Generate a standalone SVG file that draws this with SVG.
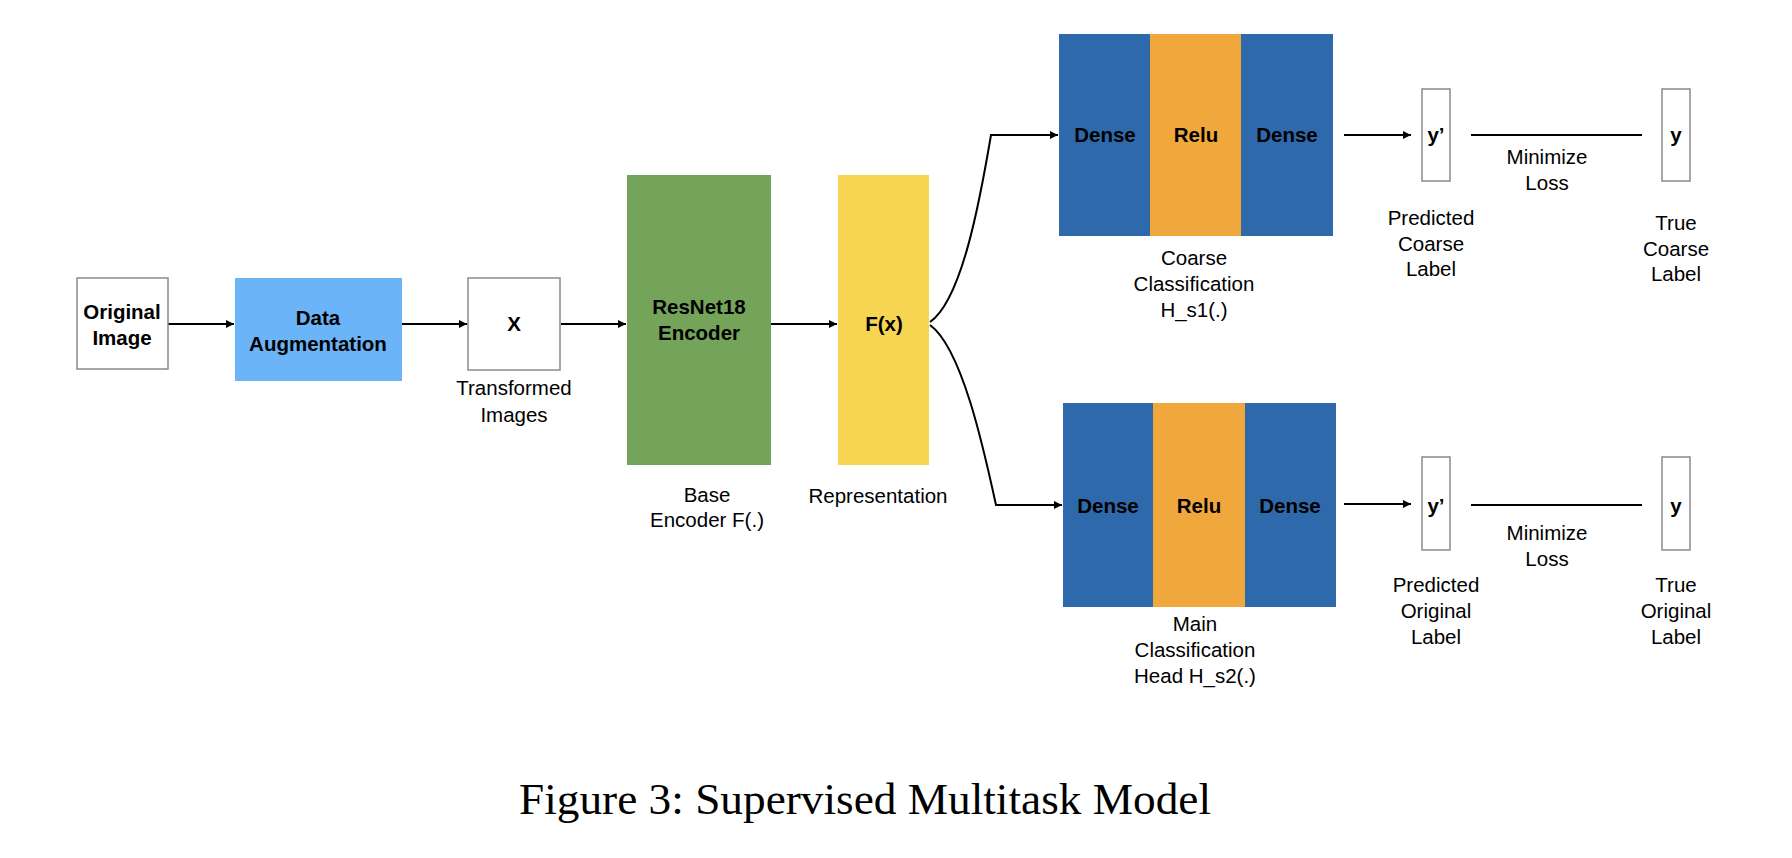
<svg xmlns="http://www.w3.org/2000/svg" width="1792" height="858" viewBox="0 0 1792 858">
<defs>
<marker id="ah" markerWidth="10" markerHeight="10" refX="8" refY="4" orient="auto" markerUnits="userSpaceOnUse">
<path d="M0,0 L8,4 L0,8 Z" fill="#000"/>
</marker>
<style>
text{font-family:"Liberation Sans",Arial,sans-serif;font-size:20.5px;fill:#000;text-anchor:middle}
.b{font-weight:bold}
.wbox{fill:#fff;stroke:#8a8a8a;stroke-width:1.5}
.blue{fill:#2E69AB}
.orange{fill:#F0A83C}
.conn{fill:none;stroke:#000;stroke-width:2}
.cap{font-family:"Liberation Serif","Times New Roman",serif;font-size:44px;text-anchor:start}
</style>
</defs>
<rect width="1792" height="858" fill="#fff"/>

<g id="connectors">
<line class="conn" x1="168" y1="324" x2="234" y2="324" marker-end="url(#ah)"/>
<line class="conn" x1="402" y1="324" x2="467" y2="324" marker-end="url(#ah)"/>
<line class="conn" x1="561" y1="324" x2="626" y2="324" marker-end="url(#ah)"/>
<line class="conn" x1="771" y1="324" x2="837" y2="324" marker-end="url(#ah)"/>
<path class="conn" d="M930,322 C962,300 980,200 991,135 L1058,135" marker-end="url(#ah)"/>
<path class="conn" d="M930,325 C962,348 984,450 996,505 L1062,505" marker-end="url(#ah)"/>
<line class="conn" x1="1344" y1="135" x2="1411" y2="135" marker-end="url(#ah)"/>
<line class="conn" x1="1344" y1="504" x2="1411" y2="504" marker-end="url(#ah)"/>
<line class="conn" x1="1471" y1="135" x2="1642" y2="135"/>
<line class="conn" x1="1471" y1="505" x2="1642" y2="505"/>
</g>

<g id="original-image">
<rect class="wbox" x="77" y="278" width="91" height="91"/>
<text class="b" x="122" y="319">Original</text>
<text class="b" x="122" y="345">Image</text>
</g>

<g id="data-augmentation">
<rect x="235" y="278" width="167" height="103" fill="#6AB4F7"/>
<text class="b" x="318" y="325">Data</text>
<text class="b" x="318" y="351">Augmentation</text>
</g>

<g id="transformed-x">
<rect class="wbox" x="468" y="278" width="92" height="92"/>
<text class="b" x="514" y="331">X</text>
<text x="514" y="395">Transformed</text>
<text x="514" y="422">Images</text>
</g>

<g id="encoder">
<rect x="627" y="175" width="144" height="290" fill="#73A45A"/>
<text class="b" x="699" y="314">ResNet18</text>
<text class="b" x="699" y="340">Encoder</text>
<text x="707" y="502">Base</text>
<text x="707" y="527">Encoder F(.)</text>
</g>

<g id="representation">
<rect x="838" y="175" width="91" height="290" fill="#F8D453"/>
<text class="b" x="884" y="331">F(x)</text>
<text x="878" y="503">Representation</text>
</g>

<g id="coarse-head">
<rect class="blue" x="1059" y="34" width="91" height="202"/>
<rect class="orange" x="1150" y="34" width="91" height="202"/>
<rect class="blue" x="1241" y="34" width="92" height="202"/>
<text class="b" x="1105" y="142">Dense</text>
<text class="b" x="1196" y="142">Relu</text>
<text class="b" x="1287" y="142">Dense</text>
<text x="1194" y="265">Coarse</text>
<text x="1194" y="291">Classification</text>
<text x="1194" y="317">H_s1(.)</text>
</g>

<g id="pred-coarse">
<rect class="wbox" x="1422" y="89" width="28" height="92"/>
<text class="b" x="1436" y="142">y’</text>
<text x="1431" y="225">Predicted</text>
<text x="1431" y="251">Coarse</text>
<text x="1431" y="276">Label</text>
</g>

<g id="loss-coarse">
<text x="1547" y="164">Minimize</text>
<text x="1547" y="190">Loss</text>
</g>

<g id="true-coarse">
<rect class="wbox" x="1662" y="89" width="28" height="92"/>
<text class="b" x="1676" y="142">y</text>
<text x="1676" y="230">True</text>
<text x="1676" y="256">Coarse</text>
<text x="1676" y="281">Label</text>
</g>

<g id="main-head">
<rect class="blue" x="1063" y="403" width="90" height="204"/>
<rect class="orange" x="1153" y="403" width="92" height="204"/>
<rect class="blue" x="1245" y="403" width="91" height="204"/>
<text class="b" x="1108" y="513">Dense</text>
<text class="b" x="1199" y="513">Relu</text>
<text class="b" x="1290" y="513">Dense</text>
<text x="1195" y="631">Main</text>
<text x="1195" y="657">Classification</text>
<text x="1195" y="683">Head H_s2(.)</text>
</g>

<g id="pred-original">
<rect class="wbox" x="1422" y="457" width="28" height="93"/>
<text class="b" x="1436" y="513">y’</text>
<text x="1436" y="592">Predicted</text>
<text x="1436" y="618">Original</text>
<text x="1436" y="644">Label</text>
</g>

<g id="loss-original">
<text x="1547" y="540">Minimize</text>
<text x="1547" y="566">Loss</text>
</g>

<g id="true-original">
<rect class="wbox" x="1662" y="457" width="28" height="93"/>
<text class="b" x="1676" y="513">y</text>
<text x="1676" y="592">True</text>
<text x="1676" y="618">Original</text>
<text x="1676" y="644">Label</text>
</g>

<g id="caption">
<text class="cap" x="519" y="814" textLength="692" lengthAdjust="spacingAndGlyphs">Figure 3: Supervised Multitask Model</text>
</g>
</svg>
